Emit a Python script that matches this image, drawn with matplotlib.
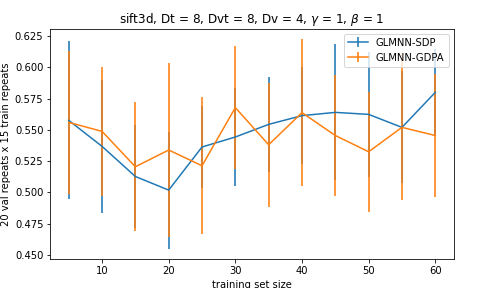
import matplotlib
matplotlib.use("Agg")
import matplotlib.pyplot as plt
import numpy as np

train_sizes = [5, 10, 15, 20, 25, 30, 35, 40, 45, 50, 55, 60]
sdp_mean = [0.5576, 0.5368, 0.5127, 0.5018, 0.5363, 0.5443, 0.5544, 0.5614, 0.5640, 0.5624, 0.5520, 0.5800]
sdp_err = [0.0633, 0.0533, 0.0415, 0.0469, 0.0327, 0.0390, 0.0380, 0.0390, 0.0545, 0.0500, 0.0448, 0.0350]
gdpa_mean = [0.5560, 0.5488, 0.5205, 0.5339, 0.5213, 0.5678, 0.5381, 0.5638, 0.5455, 0.5325, 0.5520, 0.5455]
gdpa_err = [0.0574, 0.0515, 0.0516, 0.0696, 0.0549, 0.0495, 0.0495, 0.0587, 0.0488, 0.0481, 0.0585, 0.0490]

fig = plt.figure(figsize=(7, 4), dpi=72)
ax = fig.add_axes([0.1, 0.1, 0.8, 0.8])

for m, e, lab in [(sdp_mean, sdp_err, "GLMNN-SDP"), (gdpa_mean, gdpa_err, "GLMNN-GDPA")]:
    eb = ax.errorbar(train_sizes, m, yerr=e, label=lab, elinewidth=2)
    for c in eb[2]:
        c.set_alpha(0.8)

ax.set_title(r"sift3d, Dt = 8, Dvt = 8, Dv = 4, $\gamma$ = 1, $\beta$ = 1")
ax.set_xlabel("training set size")
ax.set_ylabel("20 val repeats x 15 train repeats")
ax.legend(loc="upper right")
fig.savefig("out.png", dpi=72)
